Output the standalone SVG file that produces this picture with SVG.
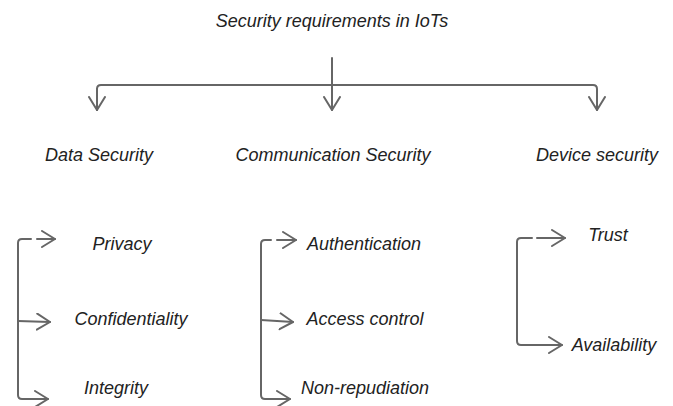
<svg xmlns="http://www.w3.org/2000/svg" width="673" height="406" viewBox="0 0 673 406">
<style>
.t{font-family:"Liberation Sans",Arial,sans-serif;font-style:italic;font-size:18px;fill:#222;text-anchor:middle}
.c{fill:none;stroke:#666;stroke-width:2;stroke-linecap:round;stroke-linejoin:round}
</style>
<defs>
<marker id="ah" markerUnits="userSpaceOnUse" markerWidth="18" markerHeight="20" refX="14" refY="9" orient="auto" viewBox="0 0 18 20">
<path d="M1,1 L14,9 L1,17" fill="none" stroke="#666" stroke-width="2" stroke-linecap="round" stroke-linejoin="round"/>
</marker>
</defs>
<rect width="673" height="406" fill="#fff"/>
<g id="connectors">
<path class="c" d="M332,58 V85"/>
<path class="c" d="M332,85 V110" marker-end="url(#ah)"/>
<path class="c" d="M97,110 V89 Q97,85 101,85 H593 Q597,85 597,89 V110" marker-end="url(#ah)"/>
<path class="c" d="M97,89 V110" marker-end="url(#ah)"/>
<path class="c" d="M31,239 H22 Q18,239 18,243 V395 Q18,399 22,399 H48" marker-end="url(#ah)"/>
<path class="c" d="M37,239 H55" marker-end="url(#ah)"/>
<path class="c" d="M18,321 L50,322" marker-end="url(#ah)"/>
<path class="c" d="M271,240 H265 Q261,240 261,244 V395 Q261,399 265,399 H290" marker-end="url(#ah)"/>
<path class="c" d="M277,240 H296" marker-end="url(#ah)"/>
<path class="c" d="M261,320 L293,322" marker-end="url(#ah)"/>
<path class="c" d="M532,238 H521 Q517,238 517,242 V341 Q517,345 521,345 H562" marker-end="url(#ah)"/>
<path class="c" d="M537,238 H565" marker-end="url(#ah)"/>
</g>
<g id="title"><text class="t" x="332" y="27">Security requirements in IoTs</text></g>
<g id="data-security"><text class="t" x="99" y="161">Data Security</text></g>
<g id="communication-security"><text class="t" x="333" y="161">Communication Security</text></g>
<g id="device-security"><text class="t" x="597" y="161">Device security</text></g>
<g id="privacy"><text class="t" x="122" y="250">Privacy</text></g>
<g id="confidentiality"><text class="t" x="131" y="325">Confidentiality</text></g>
<g id="integrity"><text class="t" x="116" y="394">Integrity</text></g>
<g id="authentication"><text class="t" x="364" y="250">Authentication</text></g>
<g id="access-control"><text class="t" x="365" y="325">Access control</text></g>
<g id="non-repudiation"><text class="t" x="365" y="394">Non-repudiation</text></g>
<g id="trust"><text class="t" x="608" y="241">Trust</text></g>
<g id="availability"><text class="t" x="614" y="351">Availability</text></g>
</svg>
